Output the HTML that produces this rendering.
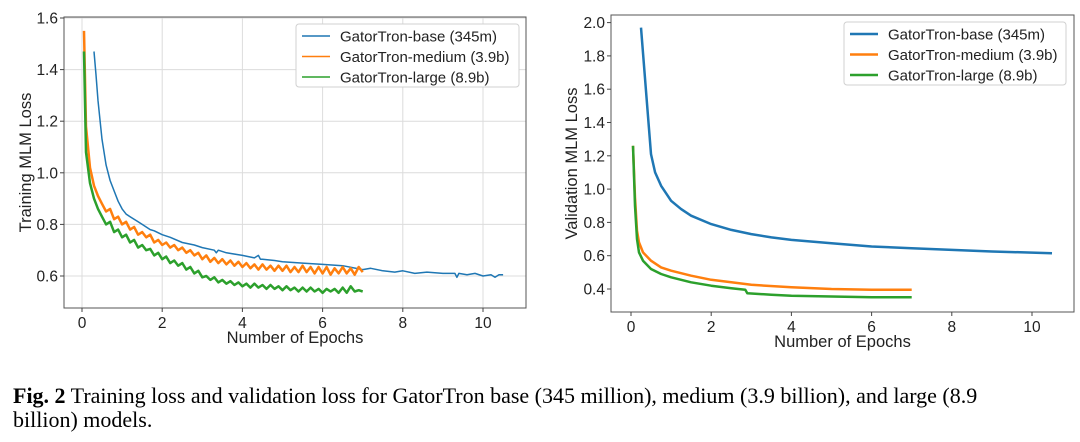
<!DOCTYPE html>
<html><head><meta charset="utf-8"><style>
html,body{margin:0;padding:0;background:#fff;}
svg{display:block;}
text{font-family:"Liberation Sans","DejaVu Sans",sans-serif;}
.cap{font-family:"Liberation Serif",serif;font-size:22px;fill:#000;}
</style></head><body>
<svg id="fig" width="1080" height="442" xmlns="http://www.w3.org/2000/svg">
<g id="left"></g>
<g id="right"></g>
<text class="cap" x="13" y="403"><tspan font-weight="bold">Fig. 2</tspan> Training loss and validation loss for GatorTron base (345 million), medium (3.9 billion), and large (8.9</text>
<text class="cap" x="13" y="427">billion) models.</text>
</svg>
<script>
const seriesNames = ["GatorTron-base (345m)","GatorTron-medium (3.9b)","GatorTron-large (8.9b)"];
const colors = ["#1f77b4","#ff7f0e","#2ca02c"];
const xTicks = [0,2,4,6,8,10];
const trainYTicks = [0.6,0.8,1.0,1.2,1.4,1.6];
const valYTicks = [0.4,0.6,0.8,1.0,1.2,1.4,1.6,1.8,2.0];

const trainBaseEpochs = [0.3,0.35,0.4,0.5,0.6,0.7,0.8,0.9,1.0,1.1,1.2,1.4,1.5,1.6,1.7,1.8,2.0,2.2,2.5,2.8,3.0,3.3,3.35,3.4,3.6,4.0,4.3,4.4,4.45,4.5,4.8,5.0,5.5,6.0,6.5,7.0,7.2,7.5,7.8,8.0,8.3,8.6,9.0,9.3,9.35,9.4,9.6,9.8,10.0,10.2,10.3,10.4,10.5];
const trainBaseLoss = [1.47,1.38,1.28,1.13,1.03,0.97,0.93,0.89,0.86,0.84,0.83,0.81,0.80,0.79,0.78,0.775,0.76,0.75,0.73,0.72,0.71,0.70,0.69,0.70,0.69,0.68,0.67,0.68,0.665,0.665,0.66,0.655,0.65,0.645,0.64,0.625,0.63,0.62,0.615,0.62,0.61,0.615,0.61,0.61,0.595,0.61,0.605,0.61,0.60,0.605,0.595,0.605,0.605];

const trainEpochs = [0.05,0.1,0.2,0.3,0.4,0.5,0.6,0.7,0.8,0.9,1.0,
1.1,1.2,1.3,1.4,1.5,1.6,1.7,1.8,1.9,2.0,
2.1,2.2,2.3,2.4,2.5,2.6,2.7,2.8,2.9,3.0,
3.1,3.2,3.3,3.4,3.5,3.6,3.7,3.8,3.9,4.0,
4.1,4.2,4.3,4.4,4.5,4.6,4.7,4.8,4.9,5.0,
5.1,5.2,5.3,5.4,5.5,5.6,5.7,5.8,5.9,6.0,
6.1,6.2,6.3,6.4,6.5,6.6,6.7,6.8,6.9,7.0];
const trainMediumLoss = [1.55,1.18,1.02,0.95,0.91,0.88,0.85,0.86,0.82,0.83,0.80,
0.81,0.78,0.79,0.76,0.77,0.75,0.76,0.73,0.74,0.72,
0.73,0.71,0.72,0.70,0.71,0.69,0.70,0.68,0.69,0.665,
0.68,0.655,0.67,0.65,0.665,0.645,0.66,0.64,0.655,0.635,
0.65,0.63,0.645,0.625,0.645,0.625,0.64,0.62,0.64,0.62,
0.64,0.615,0.635,0.615,0.64,0.615,0.635,0.61,0.635,0.61,
0.635,0.605,0.63,0.61,0.635,0.61,0.63,0.605,0.635,0.615];
const trainLargeLoss = [1.47,1.08,0.96,0.90,0.86,0.83,0.80,0.81,0.77,0.78,0.75,
0.76,0.73,0.74,0.71,0.72,0.70,0.705,0.68,0.69,0.665,
0.675,0.65,0.66,0.64,0.65,0.625,0.635,0.61,0.62,0.595,
0.60,0.585,0.595,0.575,0.585,0.57,0.58,0.565,0.575,0.56,
0.57,0.555,0.57,0.555,0.565,0.55,0.565,0.55,0.56,0.545,
0.56,0.545,0.555,0.54,0.555,0.54,0.555,0.54,0.55,0.535,
0.55,0.54,0.55,0.535,0.555,0.535,0.56,0.54,0.545,0.54];

const valBaseEpochs = [0.25,0.5,0.6,0.75,1.0,1.25,1.5,2.0,2.5,3.0,3.5,4.0,5.0,6.0,7.0,8.0,9.0,10.5];
const valBaseLoss = [1.97,1.21,1.10,1.02,0.93,0.88,0.84,0.79,0.755,0.73,0.71,0.695,0.675,0.655,0.645,0.635,0.625,0.615];
const valMediumEpochs = [0.05,0.1,0.15,0.2,0.3,0.5,0.75,1.0,1.5,2.0,2.5,3.0,4.0,5.0,6.0,7.0];
const valMediumLoss = [1.26,0.95,0.75,0.68,0.62,0.57,0.53,0.51,0.48,0.455,0.44,0.425,0.41,0.40,0.395,0.395];
const valLargeEpochs = [0.05,0.1,0.15,0.2,0.3,0.5,0.75,1.0,1.5,2.0,2.5,2.85,2.9,3.5,4.0,5.0,6.0,7.0];
const valLargeLoss = [1.26,0.9,0.70,0.62,0.57,0.52,0.49,0.47,0.44,0.42,0.405,0.395,0.375,0.365,0.36,0.355,0.35,0.35];

const NS="http://www.w3.org/2000/svg";
function mk(parent,tag,attrs){const e=document.createElementNS(NS,tag);for(const k in attrs)e.setAttribute(k,attrs[k]);parent.appendChild(e);return e;}

function drawChart(g,cfg){
  const sx=v=>cfg.x0+(v-cfg.xmin)*cfg.xs;
  const sy=v=>cfg.yRef-(v-cfg.yRefV)*cfg.ys;
  if(cfg.grid){
    xTicks.forEach(t=>{const l=mk(g,'line',{x1:sx(t),x2:sx(t),y1:cfg.top,y2:cfg.bottom,stroke:'#dcdcdc','stroke-width':1});
      
      });
    cfg.yTicks.forEach(t=>{const l=mk(g,'line',{x1:cfg.left,x2:cfg.right,y1:sy(t),y2:sy(t),stroke:'#dcdcdc','stroke-width':1});
      
      });
  }
  cfg.series.forEach((s,i)=>{
    const d=s.x.map((xv,j)=>(j?'L':'M')+sx(xv).toFixed(1)+','+sy(s.y[j]).toFixed(1)).join('');
    const p=mk(g,'path',{d:d,fill:'none',stroke:colors[i],'stroke-width':s.lw||cfg.lw,'stroke-linejoin':'round'});
    
    
  });
  const fr=mk(g,'rect',{x:cfg.left,y:cfg.top,width:cfg.right-cfg.left,height:cfg.bottom-cfg.top,fill:'none',stroke:'#555','stroke-width':1});
  
  
  xTicks.forEach(t=>{
    mk(g,'line',{x1:sx(t),x2:sx(t),y1:cfg.bottom,y2:cfg.bottom+4,stroke:'#444'});
    const tx=mk(g,'text',{x:sx(t),y:cfg.bottom+20,'text-anchor':'middle','font-size':15.5,fill:'#222'});
    tx.textContent=t;
    
    
  });
  cfg.yTicks.forEach(t=>{
    mk(g,'line',{x1:cfg.left-4,x2:cfg.left,y1:sy(t),y2:sy(t),stroke:'#444'});
    const tx=mk(g,'text',{x:cfg.left-6,y:sy(t)+5.5,'text-anchor':'end','font-size':15.5,fill:'#222'});
    tx.textContent=t.toFixed(1);
    
    
  });
  const xl=mk(g,'text',{x:(cfg.left+cfg.right)/2,y:cfg.bottom+35,'text-anchor':'middle','font-size':16.5,fill:'#222'});
  xl.textContent='Number of Epochs';
  
  
  const yl=mk(g,'text',{x:0,y:0,'text-anchor':'middle','font-size':16.5,fill:'#222',transform:`translate(${cfg.ylx},${(cfg.top+cfg.bottom)/2}) rotate(-90)`});
  yl.textContent=cfg.ytitle;
  
  
  const lg=mk(g,'g',{});
  
  
  mk(lg,'rect',{x:cfg.lgx,y:cfg.lgy,width:cfg.lgw,height:63,rx:3,fill:'#fff',stroke:'#d0d0d0'});
  seriesNames.forEach((n,i)=>{
    const yy=cfg.lgy+12+i*20.5;
    mk(lg,'line',{x1:cfg.lgx+6,x2:cfg.lgx+34,y1:yy,y2:yy,stroke:colors[i],'stroke-width':cfg.lw});
    const t=mk(lg,'text',{x:cfg.lgx+44,y:yy+5.5,'font-size':15,fill:'#222'});
    t.textContent=n;
    
    
  });
}

drawChart(document.getElementById('left'),{
  left:64,right:526,top:17,bottom:308,x0:82,xmin:0,xs:40.1,yRef:276,yRefV:0.6,ys:258,
  yTicks:trainYTicks,grid:true,lw:1.5,ylx:31,ytitle:'Training MLM Loss',
  lgx:296,lgy:24,lgw:223,
  series:[{name:'train-base-line',x:trainBaseEpochs,y:trainBaseLoss},
          {name:'train-medium-line',x:trainEpochs,y:trainMediumLoss,lw:2.5},
          {name:'train-large-line',x:trainEpochs,y:trainLargeLoss,lw:2.5}]
});
drawChart(document.getElementById('right'),{
  left:611,right:1074,top:15,bottom:312,x0:631,xmin:0,xs:40.1,yRef:289,yRefV:0.4,ys:166.5,
  yTicks:valYTicks,grid:false,lw:2.5,ylx:577,ytitle:'Validation MLM Loss',
  lgx:844,lgy:22,lgw:222,
  series:[{name:'val-base-line',x:valBaseEpochs,y:valBaseLoss},
          {name:'val-medium-line',x:valMediumEpochs,y:valMediumLoss},
          {name:'val-large-line',x:valLargeEpochs,y:valLargeLoss}]
});
</script>
</body></html>
